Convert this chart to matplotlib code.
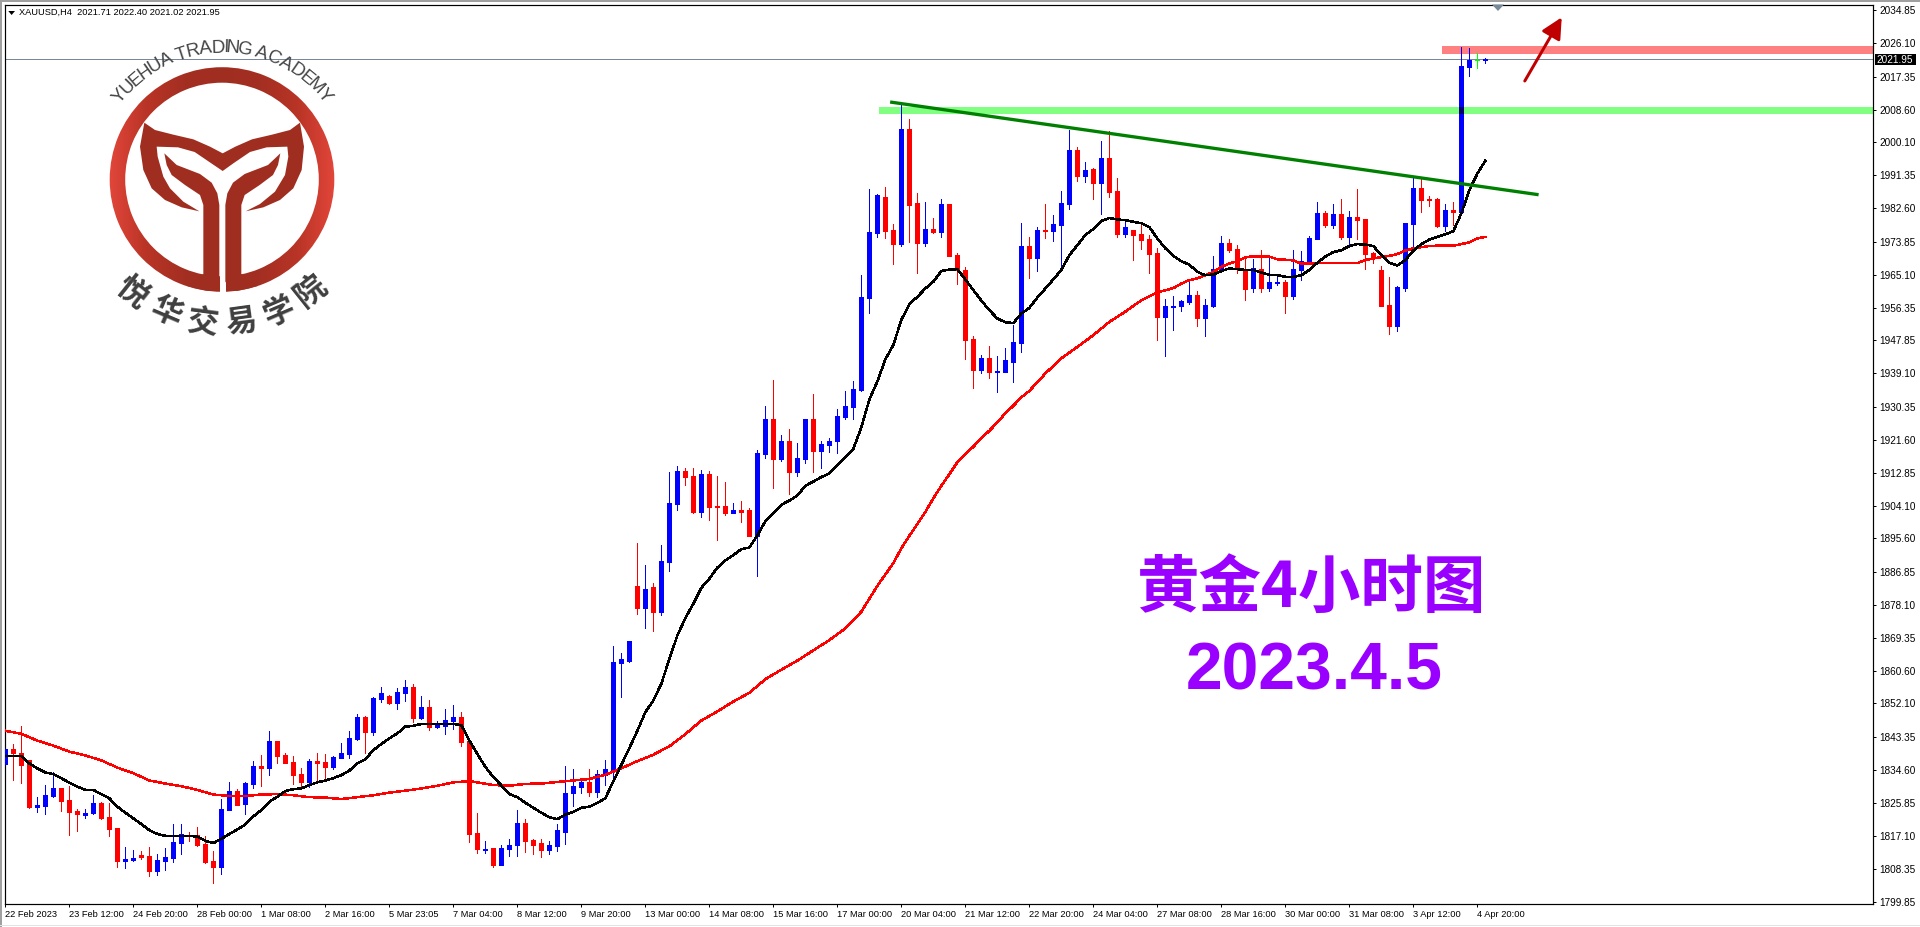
import numpy as np
import matplotlib
matplotlib.use("Agg")
import matplotlib.pyplot as plt
from matplotlib.colors import LinearSegmentedColormap
from matplotlib.font_manager import FontProperties
from matplotlib.patches import Polygon, Rectangle, Wedge
from matplotlib.textpath import TextPath

opens = [
    1836.1, 1840.1, 1839.0, 1837.2, 1824.8, 1825.1, 1827.7, 1829.8, 1826.7, 1823.8,
    1822.7, 1823.2, 1825.9, 1822.2, 1819.3, 1810.6, 1810.8, 1812.2, 1811.9, 1807.9,
    1810.6, 1811.4, 1815.3, 1817.4, 1817.4, 1815.1, 1810.6, 1809.0, 1824.0, 1829.0,
    1825.6, 1830.9, 1835.6, 1835.1, 1842.2, 1838.5, 1836.7, 1833.5, 1831.4, 1836.9,
    1836.7, 1835.4, 1837.7, 1838.8, 1842.7, 1848.5, 1844.6, 1853.3, 1854.1, 1852.2,
    1854.9, 1856.4, 1848.3, 1851.2, 1845.9, 1846.2, 1847.5, 1848.5, 1842.2, 1818.0,
    1813.5, 1813.9, 1809.5, 1813.8, 1814.8, 1820.6, 1816.0, 1815.3, 1813.5, 1814.5,
    1818.2, 1828.5, 1830.1, 1831.5, 1828.8, 1833.3, 1834.6, 1862.9, 1863.4, 1883.2,
    1877.4, 1882.7, 1876.1, 1889.3, 1904.7, 1913.3, 1912.1, 1902.7, 1912.5, 1904.1,
    1904.1, 1902.2, 1903.0, 1903.0, 1896.2, 1917.8, 1927.0, 1916.5, 1921.3, 1913.0,
    1916.5, 1927.0, 1918.7, 1920.2, 1921.3, 1927.6, 1930.2, 1934.7, 1959.0, 1976.1,
    1985.6, 1976.9, 1973.2, 2003.5, 1984.0, 1973.5, 1977.2, 1976.4, 1983.8, 1970.3,
    1966.4, 1948.2, 1940.0, 1943.2, 1939.5, 1939.5, 1942.1, 1947.1, 1972.7, 1969.5,
    1976.9, 1976.6, 1978.2, 1983.8, 1998.0, 1991.2, 1993.0, 1989.3, 1995.9, 1987.2,
    1975.9, 1976.9, 1975.9, 1974.6, 1970.9, 1954.0, 1956.6, 1956.9, 1957.9, 1959.8,
    1953.7, 1956.9, 1966.4, 1973.5, 1971.9, 1966.6, 1961.6, 1966.6, 1961.6, 1962.9,
    1963.2, 1959.5, 1966.4, 1968.5, 1974.5, 1981.4, 1978.2, 1981.1, 1975.1, 1980.3,
    1979.8, 1970.8, 1966.4, 1957.1, 1951.6, 1961.6, 1978.5, 1988.0, 1985.1, 1985.1,
    1978.0, 1982.2, 1981.7, 2019.9, 2021.8, 2021.71,
]
highs = [
    1840.1, 1841.4, 1846.2, 1837.2, 1827.4, 1830.6, 1834.0, 1829.8, 1830.3, 1824.3,
    1824.3, 1828.0, 1826.1, 1825.9, 1819.3, 1814.3, 1813.5, 1813.2, 1814.3, 1812.4,
    1814.0, 1820.3, 1820.3, 1818.2, 1819.5, 1817.2, 1813.2, 1826.9, 1831.4, 1829.6,
    1831.4, 1836.9, 1838.5, 1844.8, 1842.2, 1839.0, 1838.3, 1835.1, 1837.5, 1839.0,
    1838.8, 1838.3, 1841.7, 1844.8, 1849.3, 1848.8, 1853.8, 1856.4, 1854.3, 1856.2,
    1858.3, 1857.2, 1854.1, 1853.0, 1847.5, 1850.6, 1851.7, 1849.9, 1842.2, 1823.2,
    1815.8, 1813.9, 1814.8, 1816.4, 1824.1, 1821.6, 1816.4, 1816.4, 1815.8, 1820.4,
    1835.6, 1834.9, 1832.1, 1834.9, 1834.6, 1837.3, 1867.3, 1865.3, 1868.7, 1894.4,
    1888.7, 1883.8, 1893.8, 1913.0, 1914.7, 1914.1, 1914.1, 1913.6, 1913.3, 1912.1,
    1910.4, 1904.9, 1905.6, 1903.6, 1918.9, 1930.5, 1937.3, 1922.8, 1924.4, 1920.7,
    1927.0, 1933.6, 1921.3, 1922.1, 1929.7, 1934.5, 1937.1, 1965.0, 1987.7, 1986.4,
    1988.2, 1978.5, 2009.9, 2006.2, 1986.6, 1984.3, 1980.1, 1985.1, 1983.8, 1970.9,
    1967.2, 1949.0, 1944.0, 1946.3, 1943.7, 1945.8, 1951.9, 1978.7, 1975.0, 1977.7,
    1983.8, 1980.9, 1987.2, 2003.3, 1998.8, 1994.9, 1993.3, 2000.4, 2003.0, 1990.6,
    1979.0, 1976.9, 1978.2, 1975.6, 1972.2, 1958.7, 1959.5, 1958.5, 1963.5, 1960.8,
    1958.7, 1970.1, 1975.3, 1974.6, 1973.0, 1969.3, 1969.3, 1971.7, 1969.5, 1965.0,
    1963.7, 1971.7, 1971.4, 1975.3, 1984.3, 1981.9, 1983.8, 1985.1, 1981.9, 1987.7,
    1979.8, 1971.1, 1967.4, 1964.5, 1962.1, 1978.8, 1990.9, 1990.4, 1985.9, 1985.4,
    1983.8, 1984.3, 2025.2, 2024.9, 2023.6, 2022.40,
]
lows = [
    1834.6, 1831.9, 1831.1, 1824.5, 1823.5, 1823.0, 1827.4, 1823.8, 1817.4, 1818.5,
    1822.0, 1823.0, 1821.6, 1817.2, 1809.0, 1808.7, 1810.6, 1811.1, 1806.6, 1806.9,
    1808.2, 1810.3, 1812.4, 1815.9, 1814.5, 1810.1, 1804.8, 1807.2, 1824.0, 1825.3,
    1823.0, 1829.8, 1830.3, 1833.2, 1836.4, 1836.4, 1830.9, 1829.8, 1830.1, 1831.4,
    1831.9, 1834.8, 1837.7, 1837.7, 1842.5, 1839.0, 1843.8, 1852.5, 1852.0, 1850.6,
    1852.8, 1847.2, 1848.0, 1845.1, 1845.6, 1844.1, 1845.4, 1840.9, 1815.6, 1812.7,
    1812.7, 1809.1, 1809.5, 1812.0, 1812.0, 1813.0, 1812.5, 1811.6, 1812.5, 1813.3,
    1815.0, 1825.1, 1828.5, 1827.8, 1827.5, 1830.7, 1831.6, 1853.9, 1863.1, 1875.6,
    1871.9, 1871.3, 1875.3, 1886.9, 1903.0, 1909.6, 1902.2, 1901.2, 1900.4, 1895.1,
    1901.9, 1902.2, 1899.9, 1896.2, 1885.6, 1916.8, 1908.8, 1915.9, 1907.3, 1912.1,
    1915.5, 1913.0, 1914.1, 1918.4, 1918.1, 1927.0, 1927.0, 1934.5, 1955.0, 1975.0,
    1974.8, 1967.9, 1972.7, 1973.8, 1965.6, 1972.7, 1976.1, 1975.0, 1970.1, 1962.7,
    1942.9, 1935.3, 1939.2, 1937.9, 1934.3, 1939.4, 1936.9, 1944.8, 1964.3, 1966.1,
    1974.8, 1974.0, 1966.4, 1982.5, 1989.8, 1989.6, 1985.1, 1981.1, 1985.6, 1975.0,
    1975.0, 1969.0, 1971.9, 1965.6, 1947.9, 1943.7, 1950.6, 1955.6, 1957.4, 1951.6,
    1949.0, 1956.6, 1966.4, 1971.1, 1965.6, 1958.5, 1960.6, 1960.6, 1960.8, 1962.4,
    1955.0, 1958.7, 1963.7, 1967.9, 1974.5, 1977.7, 1977.4, 1974.5, 1972.7, 1974.5,
    1966.6, 1968.2, 1956.9, 1949.5, 1950.3, 1960.8, 1971.7, 1981.7, 1983.3, 1977.7,
    1976.7, 1978.2, 1981.7, 2017.5, 2019.7, 2021.02,
]
closes = [
    1840.1, 1839.0, 1835.9, 1824.8, 1825.3, 1828.0, 1829.8, 1826.4, 1823.5, 1823.0,
    1823.2, 1825.9, 1821.9, 1819.0, 1810.6, 1811.1, 1811.4, 1811.6, 1807.9, 1810.8,
    1811.6, 1815.6, 1817.7, 1817.2, 1814.8, 1810.3, 1809.0, 1824.3, 1829.0, 1825.3,
    1831.1, 1835.6, 1835.1, 1842.2, 1838.3, 1836.4, 1833.2, 1831.4, 1836.9, 1836.4,
    1835.4, 1838.0, 1839.0, 1843.0, 1848.5, 1844.6, 1853.5, 1854.9, 1852.2, 1855.1,
    1856.4, 1848.3, 1851.2, 1845.9, 1846.4, 1847.7, 1848.5, 1841.9, 1817.7, 1813.7,
    1813.8, 1809.5, 1813.9, 1814.9, 1820.6, 1815.8, 1814.8, 1813.5, 1814.8, 1818.7,
    1828.5, 1830.4, 1831.5, 1828.8, 1833.5, 1834.9, 1863.1, 1863.9, 1868.7, 1877.4,
    1882.4, 1876.1, 1889.6, 1904.9, 1913.3, 1911.8, 1902.7, 1912.5, 1903.8, 1903.8,
    1902.2, 1903.0, 1902.7, 1896.2, 1918.1, 1927.0, 1916.5, 1921.3, 1913.0, 1916.8,
    1927.0, 1918.7, 1920.5, 1921.3, 1927.9, 1930.5, 1935.0, 1959.3, 1976.4, 1986.1,
    1976.6, 1973.2, 2003.5, 1983.5, 1973.5, 1977.2, 1976.4, 1983.8, 1970.1, 1966.4,
    1947.9, 1940.0, 1943.2, 1939.5, 1939.8, 1942.7, 1947.4, 1972.7, 1969.5, 1976.9,
    1976.6, 1978.5, 1984.0, 1998.0, 1991.2, 1992.7, 1989.3, 1995.9, 1987.0, 1975.9,
    1977.7, 1975.6, 1974.3, 1970.6, 1954.0, 1956.9, 1956.9, 1958.2, 1959.8, 1953.7,
    1957.2, 1966.6, 1973.5, 1971.7, 1966.6, 1961.4, 1966.9, 1961.6, 1963.2, 1963.2,
    1959.5, 1966.6, 1968.8, 1974.8, 1981.4, 1978.2, 1981.1, 1975.1, 1980.3, 1979.5,
    1970.6, 1969.5, 1956.9, 1951.6, 1961.9, 1978.8, 1988.0, 1984.8, 1984.8, 1978.0,
    1982.2, 1981.7, 2020.2, 2021.8, 2021.8, 2021.95,
]

ma_fast = [
    1838.3, 1838.3, 1838.3, 1836.3, 1835.0, 1833.9, 1833.5, 1832.4, 1831.2, 1830.2,
    1829.3, 1829.3, 1828.2, 1827.1, 1824.9, 1823.3, 1821.8, 1820.3, 1818.7, 1817.7,
    1817.2, 1817.2, 1817.2, 1817.2, 1817.0, 1815.9, 1815.3, 1816.4, 1817.7, 1818.9,
    1820.2, 1822.3, 1824.0, 1826.2, 1827.5, 1829.0, 1829.5, 1829.7, 1830.6, 1831.3,
    1831.8, 1832.4, 1833.2, 1834.4, 1836.3, 1837.4, 1839.8, 1841.4, 1842.9, 1844.2,
    1846.0, 1846.2, 1846.7, 1846.7, 1846.7, 1846.7, 1846.7, 1846.4, 1842.3, 1838.8,
    1835.4, 1832.7, 1830.5, 1828.2, 1827.4, 1825.9, 1824.6, 1823.3, 1822.1, 1821.6,
    1822.8, 1823.5, 1824.6, 1824.9, 1825.9, 1827.1, 1831.6, 1835.9, 1840.3, 1844.9,
    1849.8, 1852.9, 1857.3, 1863.8, 1870.0, 1874.6, 1878.4, 1882.6, 1885.0, 1887.9,
    1889.8, 1891.2, 1892.8, 1893.2, 1896.4, 1900.1, 1902.2, 1904.5, 1905.6, 1906.9,
    1909.5, 1910.6, 1911.8, 1912.7, 1915.0, 1917.1, 1919.2, 1924.9, 1932.2, 1937.0,
    1942.8, 1946.6, 1953.2, 1957.4, 1959.3, 1961.5, 1963.3, 1966.1, 1966.5, 1966.6,
    1963.9, 1961.1, 1958.3, 1955.8, 1953.6, 1952.6, 1952.4, 1954.9, 1956.4, 1959.1,
    1961.5, 1963.9, 1966.4, 1970.3, 1972.9, 1975.6, 1977.2, 1979.3, 1980.1, 1979.7,
    1979.5, 1979.1, 1978.7, 1977.7, 1974.7, 1972.1, 1970.1, 1968.7, 1967.8, 1965.9,
    1965.0, 1965.2, 1966.1, 1966.8, 1966.6, 1966.4, 1966.4, 1965.7, 1965.1, 1965.0,
    1964.6, 1964.6, 1965.0, 1966.4, 1968.3, 1969.9, 1971.1, 1971.6, 1972.7, 1973.2,
    1973.1, 1972.7, 1970.3, 1968.3, 1967.6, 1969.0, 1971.5, 1973.2, 1974.4, 1975.1,
    1975.8, 1976.6, 1981.3, 1987.4, 1991.8, 1995.2,
]

ma_slow_bars = [
    0, 2, 4, 6, 8, 10, 12, 14, 16, 18, 20, 22, 24, 26, 28, 30, 32, 34, 36, 38, 40, 42,
    44, 46, 48, 50, 52, 54, 56, 58, 59, 61, 63, 65, 67, 69, 71, 73, 75, 77, 79, 81, 83,
    85, 87, 89, 91, 93, 95, 97, 99, 101, 103, 105, 107, 109, 111, 112, 113, 114, 115,
    116, 117, 118, 119, 120, 121, 122, 123, 124, 125, 126, 127, 128, 130, 132, 134,
    136, 138, 140, 142, 144, 146, 147, 148, 149, 150, 151, 152, 153, 154, 155, 156,
    157, 158, 159, 160, 161, 162, 165, 169, 170, 171, 172, 173, 174, 175, 176, 177,
    178, 179, 181, 182, 183, 184, 185,
]
ma_slow = [
    1844.9, 1844.1, 1842.3, 1841.0, 1839.4, 1838.4, 1837.1, 1835.2, 1833.7, 1831.8, 1831.0, 1830.3,
    1829.3, 1828.1, 1827.7, 1827.7, 1828.1, 1828.2, 1827.9, 1827.4, 1827.3, 1826.9,
    1827.4, 1827.9, 1828.6, 1829.1, 1829.7, 1830.4, 1831.3, 1831.6, 1831.3, 1830.6, 1830.4, 1830.9,
    1831.0, 1831.4, 1831.8, 1832.2, 1833.3, 1835.0, 1836.9, 1838.6, 1840.8,
    1844.0, 1847.6, 1850.0, 1852.6, 1854.9, 1858.5, 1861.0, 1863.4, 1866.1, 1868.8, 1871.9,
    1876.3, 1883.1, 1889.1, 1893.0, 1896.3, 1899.4, 1902.6,
    1906.2, 1909.5, 1912.5, 1915.7, 1917.8, 1919.8, 1922.0, 1924.0, 1926.2, 1928.6, 1930.6,
    1932.8, 1934.5, 1939.1, 1943.1, 1946.1,
    1949.2, 1952.7, 1955.4, 1958.4, 1960.5, 1961.6, 1962.8, 1963.7, 1964.2, 1965.0, 1965.9, 1967.2,
    1968.1, 1968.7, 1969.7, 1970.0,
    1970.0, 1969.9, 1969.2, 1969.1, 1968.9, 1968.1, 1968.2, 1968.2, 1969.0, 1969.4, 1969.8, 1970.1,
    1970.6, 1971.5, 1972.1, 1972.4,
    1972.7, 1972.8, 1972.8, 1973.2, 1973.7, 1974.7, 1975.1,
]

price_ticks = [
    2034.85, 2026.10, 2017.35, 2008.60, 2000.10, 1991.35, 1982.60, 1973.85, 1965.10,
    1956.35, 1947.85, 1939.10, 1930.35, 1921.60, 1912.85, 1904.10, 1895.60, 1886.85,
    1878.10, 1869.35, 1860.60, 1852.10, 1843.35, 1834.60, 1825.85, 1817.10, 1808.35,
    1799.85,
]
time_ticks = [
    "22 Feb 2023", "23 Feb 12:00", "24 Feb 20:00", "28 Feb 00:00", "1 Mar 08:00",
    "2 Mar 16:00", "5 Mar 23:05", "7 Mar 04:00", "8 Mar 12:00", "9 Mar 20:00",
    "13 Mar 00:00", "14 Mar 08:00", "15 Mar 16:00", "17 Mar 00:00", "20 Mar 04:00",
    "21 Mar 12:00", "22 Mar 20:00", "24 Mar 04:00", "27 Mar 08:00", "28 Mar 16:00",
    "30 Mar 00:00", "31 Mar 08:00", "3 Apr 12:00", "4 Apr 20:00",
]
last_price = 2021.95
resist_zone = (2023.33, 2025.44)
support_zone = (2007.52, 2009.36)
trend_bars = [110.6, 191.66]
trend_prices = [2010.67, 1986.23]

PX = 0.72  # one pixel in points at dpi=100
W, H = 1920, 927
BAR_PX = 8.0
BAR0_PX = 5.33
PRICE_PX = 3.793
AX_L, AX_R, AX_T, AX_B = 5, 1873, 4.5, 904

plt.rcParams["font.family"] = ["Liberation Sans", "DejaVu Sans"]

fig = plt.figure(figsize=(W / 100, H / 100), dpi=100, facecolor="white")
ax = fig.add_axes([AX_L / W, 1 - AX_B / H, (AX_R - AX_L) / W, (AX_B - AX_T) / H])
ax.set_xlim((AX_L - BAR0_PX) / BAR_PX, (AX_R - BAR0_PX) / BAR_PX)
ax.set_ylim(2034.85 - (AX_B - 10.3) / PRICE_PX, 2034.85 + (10.3 - AX_T) / PRICE_PX)

# zones, price line
right = ax.get_xlim()[1]
ax.add_patch(Rectangle((179.6, resist_zone[0]), right - 179.6, resist_zone[1] - resist_zone[0],
                       color="#ff8080", lw=0, zorder=1))
ax.add_patch(Rectangle((109.2, support_zone[0]), right - 109.2, support_zone[1] - support_zone[0],
                       color="#80ff80", lw=0, zorder=1))
ax.axhline(last_price, color="#778899", lw=PX, zorder=1.5)

# candles
bars = np.arange(len(opens))
o, h, l, c = map(np.array, (opens, highs, lows, closes))
colors = np.where(c > o, "#0000ff", np.where(c < o, "#ff0000", "#00ff00"))
ax.vlines(bars, l, h, colors=colors, lw=PX, zorder=2, antialiased=False)
ax.bar(bars, np.abs(c - o), bottom=np.minimum(o, c), width=0.5, color=colors, edgecolor=colors,
       linewidth=PX, zorder=3, antialiased=False)
ax.bar(182, support_zone[1] - support_zone[0], bottom=support_zone[0], width=0.625,
       color="#00006e", zorder=3.2, antialiased=False)

# moving averages
ax.plot(ma_slow_bars, ma_slow, color="#ff0000", lw=1.5 * PX, zorder=4, antialiased=False)
ax.plot(bars, ma_fast, color="#000000", lw=1.5 * PX, zorder=5, antialiased=False)

# trend line and arrow
ax.plot(trend_bars, trend_prices, color="#008000", lw=3.3 * PX, zorder=6, solid_capstyle="butt")
ax.annotate("", xy=(194.55, 2033.0), xytext=(189.93, 2016.21), zorder=7,
            arrowprops=dict(arrowstyle="-|>,head_length=0.7,head_width=0.35", color="#c00000",
                            lw=3 * PX, shrinkA=0, shrinkB=0, mutation_scale=18))

# axes
ax.yaxis.tick_right()
ax.set_yticks(price_ticks)
ax.set_yticklabels([f"{p:.2f}" for p in price_ticks])
ax.set_xticks(np.arange(len(time_ticks)) * 8)
ax.set_xticklabels(time_ticks, ha="left")
ax.tick_params(axis="x", length=3 * PX, width=PX, labelsize=6.7, pad=2.4)
ax.tick_params(axis="y", length=3 * PX, width=PX, labelsize=7.2, pad=2.4)
for spine in ax.spines.values():
    spine.set_linewidth(PX * 1.2)

# everything below is drawn in pixel coordinates
ov = fig.add_axes([0, 0, 1, 1], zorder=10)
ov.set_xlim(0, W)
ov.set_ylim(H, 0)
ov.axis("off")
ov.patch.set_alpha(0)

ov.add_patch(Rectangle((0, 0), W, 1.5, color="#a0a0a0", lw=0))
ov.add_patch(Rectangle((0, 0), 2, H, color="#a0a0a0", lw=0))
ov.add_patch(Rectangle((0, 924.5), W, 1.5, color="#e4e4e4", lw=0))
ov.add_patch(Polygon([(8.3, 11), (15, 11), (11.6, 15)], color="black", lw=0))
ov.add_patch(Polygon([(1492, 4.5), (1504, 4.5), (1498, 11)], color="#778899", lw=0))
ov.text(19, 12.8, "XAUUSD,H4  2021.71 2022.40 2021.02 2021.95", fontsize=6.7, va="center", color="black")

ov.add_patch(Rectangle((1874.5, 54), 41, 10.7, color="black", lw=0))
ov.text(1895, 59.5, f"{last_price:.2f}", color="white", fontsize=7.2, ha="center", va="center")

ov.text(1311, 588, "黄金4小时图", color="#9900ff", fontsize=45, fontweight="bold",
        family=["Noto Sans CJK SC", "DejaVu Sans"], ha="center", va="center")
ov.text(1314, 689, "2023.4.5", color="#9900ff", fontsize=47.5, fontweight="bold", ha="center", va="baseline")

# logo
CX, CY = 222.0, 179.5
ring = Wedge((CX, CY), 112.3, 0, 360, width=15.5, transform=ov.transData, color="none")
ring_cmap = LinearSegmentedColormap.from_list(
    "ring", ["#e2463a", "#b83426", "#a32f22", "#a02e20", "#a32f22", "#b83426", "#e2463a"])
ov.add_patch(ring)
grad = ov.imshow(np.linspace(0, 1, 256).reshape(1, -1), cmap=ring_cmap, aspect="auto",
                 extent=(CX - 113, CX + 113, CY + 113, CY - 113), zorder=2)
grad.set_clip_path(ring)
ov.set_xlim(0, W)
ov.set_ylim(H, 0)
ov.add_patch(Rectangle((219.5, 270), 6, 30, color="white", lw=0, zorder=3))

BROWN = "#a02e20"
tail = [
    (433, 368), (465, 390), (520, 404), (580, 418), (630, 440), (668, 460), (706, 440), (756, 418),
    (816, 404), (870, 390), (900, 368), (912, 440), (905, 510), (880, 565), (840, 600), (790, 622),
    (737, 634), (780, 612), (825, 575), (855, 525), (865, 470), (862, 440), (800, 442), (750, 456),
    (700, 490), (668, 513), (634, 490), (584, 456), (534, 442), (470, 440), (473, 470), (490, 530),
    (510, 565), (550, 605), (598, 634), (545, 622), (495, 600), (455, 565), (430, 510), (420, 440),
]
stem = [
    (493, 460), (530, 495), (600, 522), (635, 548), (652, 580), (658, 615), (658, 845), (642, 868),
    (625, 873), (600, 868), (560, 858), (610, 822), (610, 615), (600, 585), (555, 555), (515, 525),
    (500, 495),
]
ov.add_patch(Polygon(np.array(tail) / 3, color=BROWN, lw=0, zorder=4))
ov.add_patch(Polygon(np.array(stem) / 3, color=BROWN, lw=0, zorder=4))
ov.add_patch(Polygon([((1334 - x) / 3, y / 3) for x, y in stem], color=BROWN, lw=0, zorder=4))

# logo lettering, letters spaced by their own width
logo_text = "YUEHUA TRADING ACADEMY"
fp = FontProperties(family="Liberation Sans", size=13.5)
adv = [TextPath((0, 0), ch if ch != " " else "i", prop=fp).get_extents().width + 1.0 for ch in logo_text]
edges = np.concatenate([[0], np.cumsum(adv)])
mid = (edges[:-1] + edges[1:]) / 2 / edges[-1]
for ch, t in zip(logo_text, mid):
    a = np.radians(-53.5 + 107 * t)
    ov.text(CX + 127 * np.sin(a), CY - 127 * np.cos(a), ch, color="#454545", fontsize=13.5,
            rotation=-np.degrees(a), rotation_mode="anchor", ha="center", va="baseline", zorder=5)

for k, ch in enumerate("悦华交易学院"):
    a = np.radians(-38.4 + 15.4 * k)
    ov.text(CX + 144 * np.sin(a), CY + 144 * np.cos(a), ch, color="#3f3f3f", fontsize=22.5,
            fontweight="black", family=["Noto Sans CJK SC", "DejaVu Sans"],
            rotation=np.degrees(a), rotation_mode="anchor", ha="center", va="center", zorder=5)

fig.savefig("out.png", dpi=100, facecolor="white")
plt.close(fig)
